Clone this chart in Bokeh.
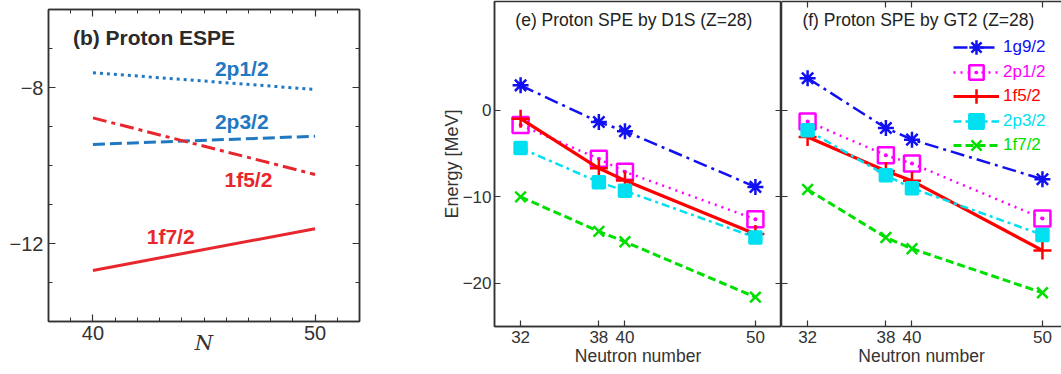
from bokeh.plotting import figure
from bokeh.layouts import row
from bokeh.models import (FixedTicker, LinearAxis, Label, Legend, LegendItem,
                          CustomJSTickFormatter, BasicTickFormatter)
from bokeh.embed import file_html
from bokeh.resources import INLINE

# ---------------- data ----------------
# panel (b): proton ESPE
N_b = [40, 50]
espe_2p12 = [-7.62, -8.05]
espe_2p32 = [-9.46, -9.25]
espe_1f52 = [-8.78, -10.23]
espe_1f72 = [-12.69, -11.62]
b_xticks = [40, 50]
b_yticks = [-8, -12]
b_ylabels = {-8: "\u22128", -12: "\u221212"}

# panels (e), (f): proton SPE
N_spe = [32, 38, 40, 50]
levels = ["1g9/2", "2p1/2", "1f5/2", "2p3/2", "1f7/2"]
d1s_1g92 = [2.9, -1.35, -2.4, -8.85]
d1s_2p12 = [-1.7, -5.6, -7.1, -12.6]
d1s_1f52 = [-0.96, -6.7, -8.1, -14.3]
d1s_2p32 = [-4.35, -8.3, -9.3, -14.7]
d1s_1f72 = [-10.0, -14.0, -15.2, -21.6]
gt2_1g92 = [3.73, -2.04, -3.38, -7.96]
gt2_2p12 = [-1.27, -5.19, -6.15, -12.5]
gt2_1f52 = [-3.08, -7.0, -8.15, -16.2]
gt2_2p32 = [-2.3, -7.5, -9.0, -14.4]
gt2_1f72 = [-9.15, -14.7, -16.0, -21.1]
spe_xticks = [32, 38, 40, 50]
spe_yticks = [0, -10, -20]

FONT = "Liberation Sans"
DARK = "#333333"
BLUE_B = "#1f78c1"
RED_B = "#e8262d"
H = 374


def style_axis(ax, ticker, labels=True, size="17px", tick_in=6, minor_in=0):
    ax.ticker = ticker
    ax.axis_line_color = DARK
    ax.axis_line_width = 1.5
    ax.major_tick_line_color = DARK
    ax.major_tick_line_width = 1.2
    ax.major_tick_in = tick_in
    ax.major_tick_out = 0
    ax.minor_tick_line_color = DARK
    ax.minor_tick_in = minor_in
    ax.minor_tick_out = 0
    ax.major_label_text_font = FONT
    ax.major_label_text_color = DARK
    ax.major_label_text_font_size = size
    if labels:
        ax.formatter = BasicTickFormatter()
        ax.major_label_standoff = 4
    else:
        ax.formatter = CustomJSTickFormatter(code="return ''")
        ax.major_label_standoff = 0
        ax.axis_label = None


def base_fig(width, height, xr, yr, **borders):
    p = figure(width=width, height=height, x_range=xr, y_range=yr,
               output_backend="svg", toolbar_location=None, **borders)
    p.frame_align = False
    p.xgrid.visible = False
    p.ygrid.visible = False
    p.background_fill_color = "white"
    p.border_fill_color = "white"
    return p


# ---------------- panel (b) ----------------
pb = base_fig(436, H, (38, 52), (-14, -6), min_border_left=48,
              min_border_right=77, min_border_top=9, min_border_bottom=53)
pb.outline_line_color = DARK
pb.outline_line_width = 1.5
b_xt = FixedTicker(ticks=b_xticks, minor_ticks=list(range(38, 53)))
b_yt = FixedTicker(ticks=b_yticks, minor_ticks=list(range(-14, -5)))
pb.add_layout(LinearAxis(), "above")
pb.add_layout(LinearAxis(), "right")
for ax in pb.xaxis:
    style_axis(ax, b_xt, labels=False, tick_in=7, minor_in=4)
for ax in pb.yaxis:
    style_axis(ax, b_yt, labels=False, tick_in=7, minor_in=4)
style_axis(pb.below[0], b_xt, labels=True, size="20px", tick_in=7, minor_in=4)
style_axis(pb.left[0], b_yt, labels=True, size="20px", tick_in=7, minor_in=4)
pb.left[0].major_label_overrides = b_ylabels
pb.left[0].major_label_standoff = 5
xb = pb.below[0]
xb.axis_label = "N"
xb.axis_label_text_font = "DejaVu Serif"
xb.axis_label_text_font_size = "21px"
xb.axis_label_text_font_style = "italic"
xb.axis_label_text_color = DARK
xb.axis_label_standoff = -12

pb.line(N_b, espe_2p12, line_color=BLUE_B, line_width=3, line_dash="3 4")
pb.line(N_b, espe_2p32, line_color=BLUE_B, line_width=3, line_dash="12 5")
pb.line(N_b, espe_1f52, line_color=RED_B, line_width=3, line_dash="14 5 4 5")
pb.line(N_b, espe_1f72, line_color=RED_B, line_width=3)

pb.add_layout(Label(x=39.1, y=-6.72, text="(b) Proton ESPE", text_font=FONT,
                    text_font_size="21px", text_font_style="bold",
                    text_color="#2a2a2a", text_baseline="middle"))
for txt, lx, ly, col in [("2p1/2", 46.7, -7.52, BLUE_B), ("2p3/2", 46.7, -8.88, BLUE_B),
                         ("1f5/2", 47.0, -10.36, RED_B), ("1f7/2", 43.5, -11.83, RED_B)]:
    pb.add_layout(Label(x=lx, y=ly, text=txt, text_font=FONT, text_font_size="21px",
                        text_font_style="bold", text_color=col,
                        text_align="center", text_baseline="middle"))

# ---------------- panels (e), (f) ----------------
STYLES = {
    "1g9/2": dict(color="#1010f0", dash="14 5 3 5", lw=2.5, marker="asterisk", size=16, fill=None),
    "2p1/2": dict(color="#ff00ff", dash="2 5", lw=2.5, marker="square_dot", size=16, fill=None),
    "1f5/2": dict(color="#ff0000", dash="solid", lw=3.2, marker="cross", size=18, fill=None),
    "2p3/2": dict(color="#00e0f0", dash="8 4 3 4", lw=2.5, marker="square", size=12, fill="#00e0f0"),
    "1f7/2": dict(color="#00e000", dash="8 4", lw=3, marker="x", size=15, fill=None),
}

YR = (-25, 12.6)


def spe_panel(width, left_border, xmax, series, title, with_ylabel, right_axis, outline):
    p = base_fig(width, H, (30, xmax), YR, min_border_left=left_border,
                 min_border_right=0, min_border_top=1, min_border_bottom=48)
    xt = FixedTicker(ticks=spe_xticks, minor_ticks=[])
    yt = FixedTicker(ticks=spe_yticks, minor_ticks=[])
    if outline:
        p.outline_line_color = DARK
        p.outline_line_width = 1.5
    else:
        p.outline_line_color = None
        p.add_layout(LinearAxis(), "above")
    if right_axis:
        p.add_layout(LinearAxis(), "right")
    for ax in p.xaxis:
        style_axis(ax, xt, labels=False)
    for ax in p.yaxis:
        style_axis(ax, yt, labels=False)
    style_axis(p.below[0], xt, labels=True, size="17px")
    xa = p.below[0]
    xa.axis_label = "Neutron number"
    xa.axis_label_text_font = FONT
    xa.axis_label_text_font_size = "17.5px"
    xa.axis_label_text_font_style = "normal"
    xa.axis_label_text_color = DARK
    xa.axis_label_standoff = 0
    if with_ylabel:
        style_axis(p.left[0], yt, labels=True, size="17px")
        p.left[0].major_label_standoff = 3
        p.left[0].axis_label = "Energy [MeV]"
        p.left[0].axis_label_text_font = FONT
        p.left[0].axis_label_text_font_size = "18px"
        p.left[0].axis_label_text_font_style = "normal"
        p.left[0].axis_label_text_color = DARK
        p.left[0].axis_label_standoff = -2
    renderers = {}
    for name, vals in zip(levels, series):
        s = STYLES[name]
        lr = p.line(N_spe, vals, line_color=s["color"], line_width=s["lw"], line_dash=s["dash"])
        sr = p.scatter(N_spe, vals, marker=s["marker"], size=s["size"],
                       line_color=s["color"], line_width=2.5,
                       fill_color=s["fill"], fill_alpha=1 if s["fill"] else 0)
        renderers[name] = (lr, sr)
    p.add_layout(Label(x=31.6, y=10.45, text=title, text_font=FONT,
                       text_font_size="17.5px", text_color="#222222",
                       text_baseline="middle"))
    return p, renderers


pe, _ = spe_panel(345, 58, 52, [d1s_1g92, d1s_2p12, d1s_1f52, d1s_2p32, d1s_1f72],
                  "(e) Proton SPE by D1S (Z=28)", True, True, True)
pf, rf = spe_panel(280, 0, 51.46, [gt2_1g92, gt2_2p12, gt2_1f52, gt2_2p32, gt2_1f72],
                   "(f) Proton SPE by GT2 (Z=28)", False, False, False)

for i, name in enumerate(levels):
    lr, sr = rf[name]
    leg = Legend(items=[LegendItem(label=name, renderers=[lr, sr])],
                 location=(172, 261 - i * 24.5),
                 label_text_font=FONT, label_text_font_size="17px",
                 label_text_color=STYLES[name]["color"],
                 glyph_width=46, glyph_height=36, label_height=20,
                 label_standoff=4, padding=0, margin=0, spacing=0,
                 border_line_color=None, background_fill_alpha=0)
    pf.add_layout(leg)

layout = row(pb, pe, pf)
open("out.html", "w").write(file_html(layout, INLINE))
